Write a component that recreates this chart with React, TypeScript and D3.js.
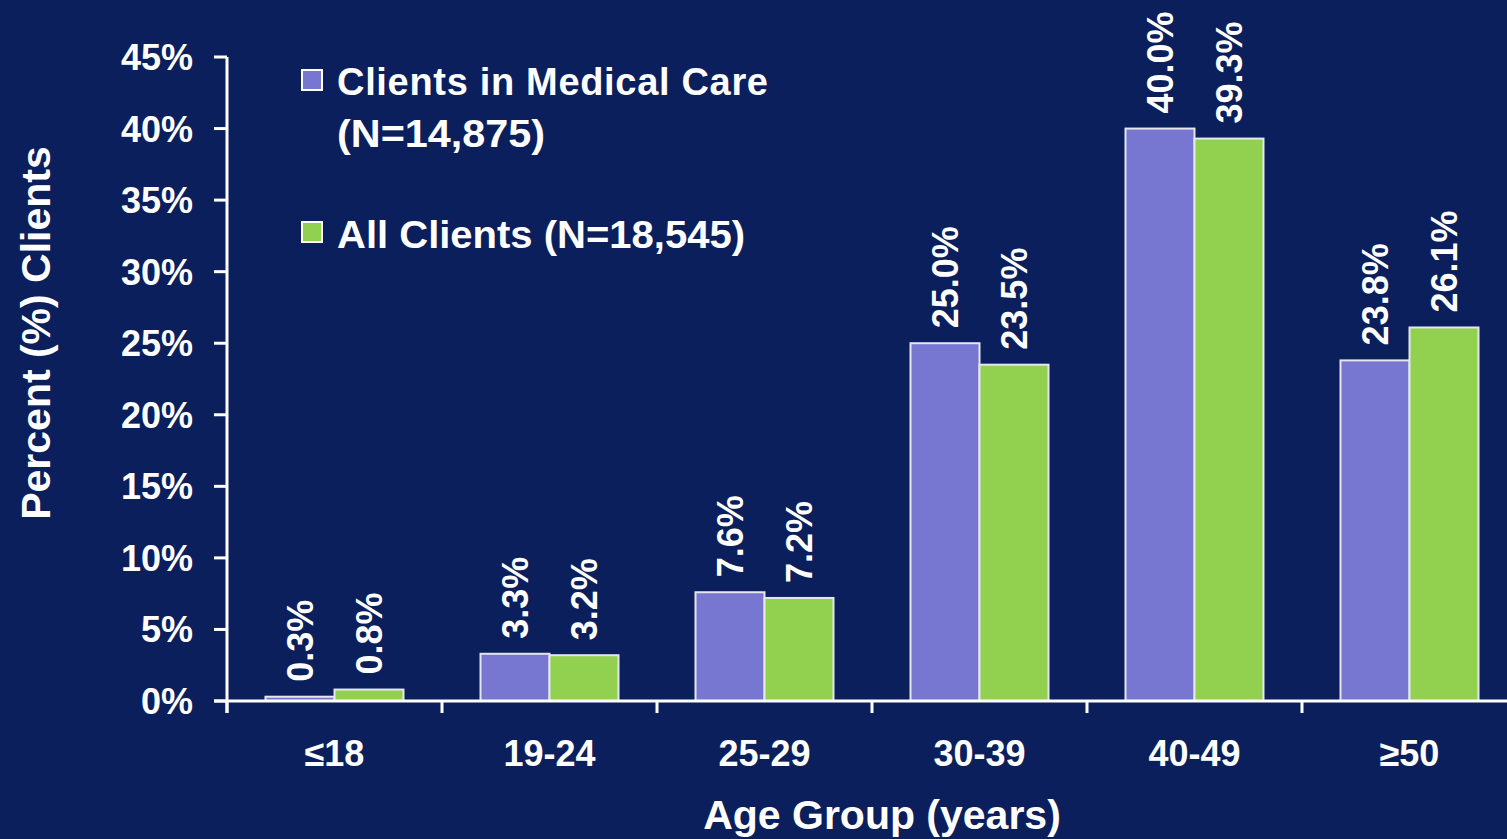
import React from "react";
import * as d3 from "d3";

const categories = ["≤18", "19-24", "25-29", "30-39", "40-49", "≥50"];
const seriesNames = ["Clients in Medical Care", "All Clients (N=18,545)"];
const medicalCare = [0.3, 3.3, 7.6, 25.0, 40.0, 23.8];
const allClients = [0.8, 3.2, 7.2, 23.5, 39.3, 26.1];
const yTicks = [0, 5, 10, 15, 20, 25, 30, 35, 40, 45];

const W = 1507;
const H = 839;
const BG = "#0b1f5d";
const PURPLE = "#7777d1";
const GREEN = "#92d050";
const FONT = "'Liberation Sans', Arial, sans-serif";

export default function App() {
  const x0 = 227;
  const y0 = 701;
  const x = d3.scaleBand<string>().domain(categories).range([x0, x0 + 6 * 215]).paddingInner(0).paddingOuter(0);
  const sub = d3.scaleBand<string>().domain(["a", "b"]).range([0, x.bandwidth()]).paddingInner(0).paddingOuter(0.558);
  const y = d3.scaleLinear().domain([0, 45]).range([y0, 57]);
  const series = [
    { key: "a", values: medicalCare, color: PURPLE },
    { key: "b", values: allClients, color: GREEN },
  ];

  return (
    <svg width={W} height={H} style={{ position: "absolute", left: 0, top: 0, background: BG }} fontFamily={FONT}>
      <rect x={0} y={0} width={W} height={H} fill={BG} />
      {/* bars */}
      {series.map((s) =>
        categories.map((c, i) => {
          const bx = (x(c) as number) + (sub(s.key) as number);
          const by = y(s.values[i]);
          return (
            <rect key={s.key + c} x={bx} y={by} width={sub.bandwidth()} height={y0 - by} fill={s.color} stroke="#e6e6ee" strokeWidth={2} />
          );
        })
      )}
      {/* value labels */}
      {series.map((s) =>
        categories.map((c, i) => {
          const cx = (x(c) as number) + (sub(s.key) as number) + sub.bandwidth() / 2;
          const ty = y(s.values[i]) - 15;
          return (
            <text key={"l" + s.key + c} transform={`translate(${cx},${ty}) rotate(-90)`} dy="0.36em" fill="white" fontSize={36} fontWeight="bold" textAnchor="start">
              {s.values[i].toFixed(1) + "%"}
            </text>
          );
        })
      )}
      {/* y axis */}
      <line x1={x0} x2={x0} y1={y(45)} y2={y0 + 12} stroke="white" strokeWidth={3} />
      {yTicks.map((t) => (
        <g key={"yt" + t}>
          <line x1={x0 - 13} x2={x0} y1={y(t)} y2={y(t)} stroke="white" strokeWidth={3} />
          <text x={193} y={y(t)} dy="0.36em" textAnchor="end" fill="white" fontSize={36} fontWeight="bold">
            {t + "%"}
          </text>
        </g>
      ))}
      {/* x axis */}
      <line x1={x0 - 13} x2={W} y1={y0} y2={y0} stroke="white" strokeWidth={3} />
      {categories.map((c) => (
        <g key={"xt" + c}>
          <line x1={x(c) as number} x2={x(c) as number} y1={y0} y2={y0 + 12} stroke="white" strokeWidth={3} />
          <text x={(x(c) as number) + x.bandwidth() / 2} y={766} textAnchor="middle" fill="white" fontSize={36} fontWeight="bold">
            {c}
          </text>
        </g>
      ))}
      {/* axis titles */}
      <text x={882} y={829} textAnchor="middle" fill="white" fontSize={41} fontWeight="bold">
        Age Group (years)
      </text>
      <text transform="translate(50,333) rotate(-90)" textAnchor="middle" fill="white" fontSize={41} fontWeight="bold">
        Percent (%) Clients
      </text>
      {/* legend */}
      <rect x={302} y={70} width={20} height={20} fill={PURPLE} stroke="white" strokeWidth={2} />
      <text x={337} y={95} fill="white" fontSize={38} fontWeight="bold" textLength={431} lengthAdjust="spacing">
        {seriesNames[0]}
      </text>
      <text x={337} y={147} fill="white" fontSize={38} fontWeight="bold" textLength={208} lengthAdjust="spacingAndGlyphs">
        (N=14,875)
      </text>
      <rect x={302} y={222} width={20} height={20} fill={GREEN} stroke="white" strokeWidth={2} />
      <text x={337} y={248} fill="white" fontSize={38} fontWeight="bold" textLength={408} lengthAdjust="spacingAndGlyphs">
        {seriesNames[1]}
      </text>
    </svg>
  );
}
